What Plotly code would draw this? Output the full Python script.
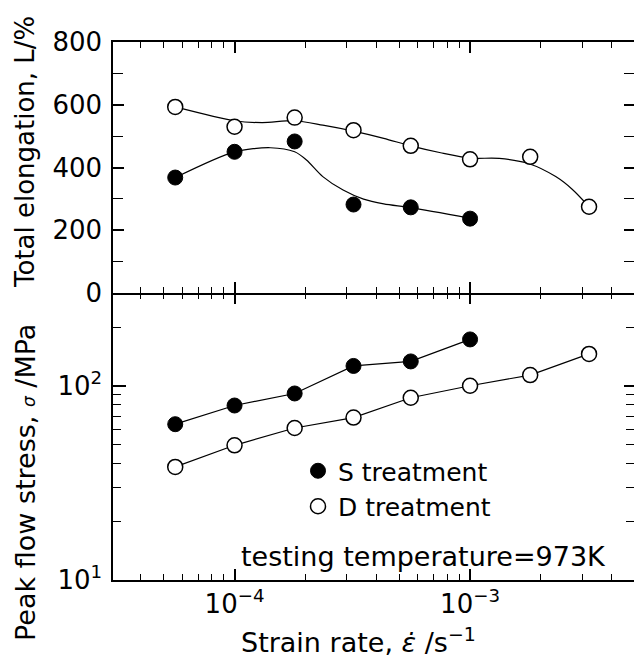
import plotly.graph_objects as go

# ---------------- data ----------------
strain_rate = [5.6e-5, 1.0e-4, 1.8e-4, 3.2e-4, 5.6e-4, 1.0e-3, 1.8e-3, 3.2e-3]
strain_rate_S = strain_rate[:6]

elong_S = [368, 450, 483, 282, 273, 237]
elong_D = [593, 530, 559, 519, 469, 426, 434, 275]

stress_S = [63.6, 79.4, 91.6, 127, 134, 174]
stress_D = [38.3, 49.5, 60.8, 68.8, 87.1, 100.4, 114, 146.5]

# hand-drawn trend curves in the elongation panel
fit_S_x = [5.6e-5, 1.0e-4, 1.42e-4, 1.8e-4, 2.02e-4, 2.37e-4, 2.89e-4, 3.53e-4, 4.3e-4, 5.6e-4, 1.0e-3]
fit_S_y = [368, 450, 463, 450, 424, 371, 328, 299, 284, 272, 238]
fit_D_x = [5.6e-5, 1.0e-4, 1.31e-4, 1.8e-4, 2.37e-4, 3.2e-4, 4.3e-4, 5.6e-4, 7.5e-4,
           1.0e-3, 1.33e-3, 1.78e-3, 2.31e-3, 2.72e-3, 3.2e-3]
fit_D_y = [593, 549, 543, 549, 535, 516, 493, 469, 447, 430, 429, 412, 371, 330, 275]

# ticks
x_major = [1e-4, 1e-3]
x_major_text = ["10<sup>\u22124</sup>", "10<sup>\u22123</sup>"]
x_minor = [4e-5, 5e-5, 6e-5, 7e-5, 8e-5, 9e-5,
           2e-4, 3e-4, 4e-4, 5e-4, 6e-4, 7e-4, 8e-4, 9e-4,
           2e-3, 3e-3, 4e-3]
elong_major = [0, 200, 400, 600, 800]
elong_minor = [100, 300, 500, 700]
stress_major = [10, 100]
stress_major_text = ["10<sup>1</sup>", "10<sup>2</sup>"]
stress_minor = [20, 30, 40, 50, 60, 70, 80, 90, 200, 300]

labels = {"S": "S treatment", "D": "D treatment"}
note = "testing temperature=973K"
ytitle_top = "Total elongation, L/%"
ytitle_bot = "Peak flow stress, <i><span style='font-size:17px'>\u03c3</span></i> /MPa"
xtitle = "Strain rate, <i>\u03b5\u0307</i> /s<sup>\u22121</sup>"

FONT = "DejaVu Sans"
W, H = 634, 664
L, R, T, B = 113, 0, 42, 84
pw, ph = W - L - R, H - T - B
split = (580 - 293) / ph

def px_x(px):
    return (px - L) / pw

def px_y(py):
    return (H - B - py) / ph

fig = go.Figure()

line_style = dict(color="black", width=1.2)
# top panel curves
fig.add_trace(go.Scatter(x=fit_D_x, y=fit_D_y, mode="lines", line=dict(shape="spline", smoothing=0.8, **line_style),
                         xaxis="x2", yaxis="y2", showlegend=False, hoverinfo="skip"))
fig.add_trace(go.Scatter(x=fit_S_x, y=fit_S_y, mode="lines", line=dict(shape="spline", smoothing=0.8, **line_style),
                         xaxis="x2", yaxis="y2", showlegend=False, hoverinfo="skip"))
# bottom panel lines
fig.add_trace(go.Scatter(x=strain_rate_S, y=stress_S, mode="lines", line=line_style,
                         xaxis="x", yaxis="y", showlegend=False, hoverinfo="skip"))
fig.add_trace(go.Scatter(x=strain_rate, y=stress_D, mode="lines", line=line_style,
                         xaxis="x", yaxis="y", showlegend=False, hoverinfo="skip"))

mk_S = dict(symbol="circle", size=15, color="black", line=dict(color="black", width=1))
mk_D = dict(symbol="circle", size=15, color="white", line=dict(color="black", width=1.5))

fig.add_trace(go.Scatter(x=strain_rate_S, y=elong_S, mode="markers", marker=mk_S,
                         xaxis="x2", yaxis="y2", showlegend=False))
fig.add_trace(go.Scatter(x=strain_rate, y=elong_D, mode="markers", marker=mk_D,
                         xaxis="x2", yaxis="y2", showlegend=False))
fig.add_trace(go.Scatter(x=strain_rate_S, y=stress_S, mode="markers", marker=mk_S,
                         xaxis="x", yaxis="y", name=labels["S"]))
fig.add_trace(go.Scatter(x=strain_rate, y=stress_D, mode="markers", marker=mk_D,
                         xaxis="x", yaxis="y", name=labels["D"]))
# empty traces so the tick-only helper axes are drawn
fig.add_trace(go.Scatter(x=[], y=[], xaxis="x", yaxis="y3", showlegend=False, hoverinfo="skip"))
fig.add_trace(go.Scatter(x=[], y=[], xaxis="x2", yaxis="y4", showlegend=False, hoverinfo="skip"))
fig.add_trace(go.Scatter(x=[], y=[], xaxis="x3", yaxis="y", showlegend=False, hoverinfo="skip"))

xrange = [-4.516, -2.304]
tick_common = dict(ticks="inside", tickcolor="black", tickwidth=1.5, showgrid=False, zeroline=False)
axis_common = dict(showline=True, linecolor="black", linewidth=1.5, **tick_common)
minor_x = dict(tickvals=x_minor, ticks="inside", ticklen=6, tickcolor="black", tickwidth=1.2, showgrid=False)
minor_s = dict(tickvals=stress_minor, ticks="inside", ticklen=8, tickcolor="black", tickwidth=1.2, showgrid=False)
minor_e = dict(tickvals=elong_minor, ticks="inside", ticklen=10, tickcolor="black", tickwidth=1.2, showgrid=False)

fig.update_layout(
    width=W, height=H,
    margin=dict(l=L, r=R, t=T, b=B, pad=0),
    paper_bgcolor="white", plot_bgcolor="white",
    font=dict(family=FONT, size=26, color="black"),
    xaxis=dict(type="log", range=xrange, anchor="y", tickvals=x_major, ticktext=x_major_text,
               ticklen=11, minor=minor_x, tickfont=dict(size=26), **axis_common),
    xaxis2=dict(type="log", range=xrange, anchor="y2", tickvals=x_major, showticklabels=False,
                ticklen=11, minor=minor_x, matches="x", mirror="ticks", **axis_common),
    xaxis3=dict(type="log", range=xrange, overlaying="x", side="top", anchor="y",
                tickvals=x_major, showticklabels=False, ticklen=11, minor=minor_x,
                showline=False, **tick_common),
    yaxis=dict(type="log", range=[1, 2.48], domain=[0, split], anchor="x",
               tickvals=stress_major, ticktext=stress_major_text, ticklen=13, minor=minor_s,
               tickfont=dict(size=26), ticklabelstandoff=4, **axis_common),
    yaxis2=dict(range=[0, 800], domain=[split, 1], anchor="x2", tickvals=elong_major, ticklen=11,
                minor=minor_e, tickfont=dict(size=26), ticklabelstandoff=4, **axis_common),
    yaxis3=dict(type="log", range=[1, 2.48], overlaying="y", side="right", anchor="x",
                tickvals=stress_major, showticklabels=False, ticklen=10, minor=minor_s,
                showline=False, **tick_common),
    yaxis4=dict(range=[0, 800], overlaying="y2", side="right", anchor="x2",
                tickvals=elong_major, showticklabels=False, ticklen=10, minor=minor_e,
                showline=False, **tick_common),
    showlegend=True,
    legend=dict(x=px_x(298), y=px_y(448), xanchor="left", yanchor="top",
                bgcolor="rgba(0,0,0,0)", borderwidth=0, font=dict(size=25, family=FONT),
                itemsizing="trace"),
    annotations=[
        dict(text=ytitle_top, xref="paper", yref="paper", x=px_x(25), y=px_y(152), textangle=-90,
             showarrow=False, xanchor="center", yanchor="middle", font=dict(size=26)),
        dict(text=ytitle_bot, xref="paper", yref="paper", x=px_x(25), y=px_y(483), textangle=-90,
             showarrow=False, xanchor="center", yanchor="middle", font=dict(size=27)),
        dict(text=xtitle, xref="paper", yref="paper", x=px_x(358), y=px_y(640),
             showarrow=False, xanchor="center", yanchor="middle", font=dict(size=27)),
        dict(text=note, xref="paper", yref="paper", x=px_x(239), y=px_y(556),
             showarrow=False, xanchor="left", yanchor="middle", font=dict(size=27)),
    ],
)

fig.write_html("out.html")
